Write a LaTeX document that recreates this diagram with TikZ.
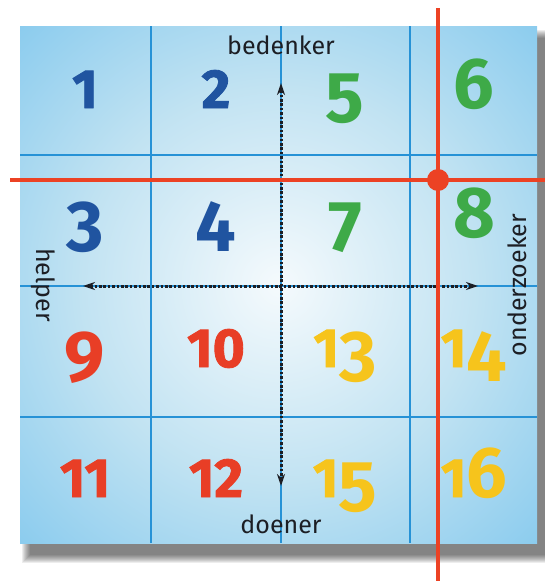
\documentclass[tikz,border=0pt]{standalone}
\usepackage{fontspec}
\setmainfont{Fira Sans}
\newfontfamily\digitfont{Fira Sans}
\newfontfamily\smalldigitfont{Fira Sans}[FakeBold=1.6]
\usetikzlibrary{arrows.meta,calc,positioning}
\definecolor{GridBlue}{RGB}{38,146,214}
\definecolor{SignalRed}{RGB}{236,66,36}
\definecolor{NumBlue}{RGB}{32,84,160}
\definecolor{NumGreen}{RGB}{62,170,72}
\definecolor{NumRed}{RGB}{232,62,38}
\definecolor{NumYellow}{RGB}{246,196,28}
\definecolor{Ink}{RGB}{28,30,36}
\pgfdeclareradialshading{glow}{\pgfpointorigin}{%
  rgb(0bp)=(0.96,0.98,0.99);
  rgb(19bp)=(0.76,0.89,0.95);
  rgb(39bp)=(0.50,0.78,0.93);
  rgb(50bp)=(0.42,0.76,0.92);
  rgb(75bp)=(0.40,0.75,0.915)}
\newcommand\smalldigit[1]{{\smalldigitfont\bfseries\fontsize{55}{55}\selectfont#1}}
\newcommand\lowdigit[1]{\raisebox{-.2em}{#1}}
\newcommand\osfdigit[1]{\ifcase#1\relax \smalldigit0\or\smalldigit1\or
  \smalldigit2\or\lowdigit3\or\lowdigit4\or\lowdigit5\or 6\or
  \lowdigit7\or 8\or\lowdigit9\fi}
\newcommand\osfnumber[1]{\ifnum#1>9 \osfdigit{1}\osfdigit{\the\numexpr#1-10\relax}%
  \else\osfdigit{#1}\fi}
\tikzset{
  gridline/.style={GridBlue,line width=1.3pt},
  digit/.style={anchor=base,inner sep=0pt,
    font=\digitfont\bfseries\fontsize{72}{72}\selectfont},
  role/.style={Ink,inner sep=0pt,font=\fontsize{25}{25}\selectfont},
  axis/.style={Ink,line width=3pt,dash pattern=on 2.6pt off 1.8pt,
    {Stealth[length=12pt,width=8pt]}-{Stealth[length=12pt,width=8pt]}},
  redline/.style={SignalRed,line width=4.5pt},
  reddot/.style={circle,fill=SignalRed,minimum size=22pt,inner sep=0pt}
}

\begin{document}
\begin{tikzpicture}[x=1pt,y=-1pt]
  \useasboundingbox (0,0) rectangle (545,581);
  \foreach \k in {0,...,8}
    \fill[black,opacity=.07] (30-\k,38-\k) rectangle (547+\k,555+\k);
  \shade[shading=glow] (20,26) rectangle (537,543);
  \foreach \x in {151,281,410}
    \draw[gridline] (\x,26) -- (\x,543);
  \foreach \y in {155,286,417}
    \draw[gridline] (20,\y) -- (537,\y);

  \foreach \n/\x/\y/\col in {1/85/108/NumBlue,2/216/108/NumBlue,
      5/345/108/NumGreen,6/474/108/NumGreen,
      3/85/237/NumBlue,4/216/237/NumBlue,7/345/237/NumGreen,8/474/237/NumGreen,
      9/85/367/NumRed,10/216/367/NumRed,13/345/367/NumYellow,14/474/367/NumYellow,
      11/85/497/NumRed,12/216/497/NumRed,15/345/497/NumYellow,16/474/497/NumYellow}
    \node[digit,text=\col] (n\n) at (\x,\y) {\osfnumber{\n}};

  \node[role,anchor=base] (bedenker) at (281,54) {bedenker};
  \node[role,anchor=base] (doener) at (281,533) {doener};
  \node[role,rotate=-90] (helper) at (43,285) {helper};
  \node[role,rotate=90] (onderzoeker) at (517,285) {onderzoeker};

  \coordinate (up) at (281,83);
  \coordinate (down) at (281,486);
  \coordinate (west) at (83,286);
  \coordinate (east) at (478,286);
  \draw[axis] (up) -- (down);
  \draw[axis] (west) -- (east);

  \coordinate (redtop) at (438,8);
  \coordinate (redbottom) at (438,581);
  \coordinate (redleft) at (10,180);
  \coordinate (redright) at (545,180);
  \draw[redline] (redtop) -- (redbottom);
  \draw[redline] (redleft) -- (redright);
  \node[reddot] (cross) at (438,180) {};
\end{tikzpicture}
\end{document}
